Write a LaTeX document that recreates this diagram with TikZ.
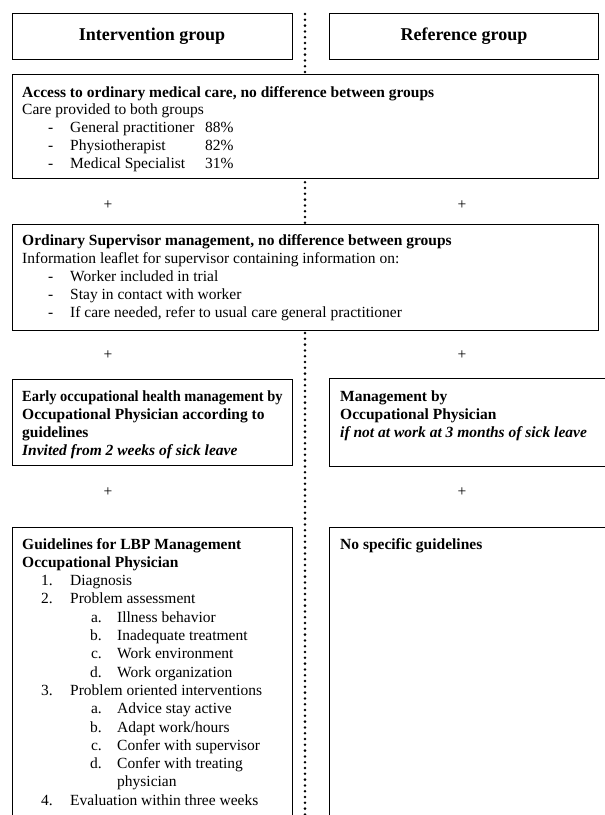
\documentclass[tikz,border=0pt]{standalone}
\usepackage{graphicx}
\usepackage{fontspec}
\setmainfont{Liberation Serif}
\begin{document}
\begin{tikzpicture}[x=1pt,y=-1pt,
  box/.style={draw=black, line width=0.7pt, fill=white, anchor=north west, inner sep=0pt},
  txt/.style={anchor=base west, inner sep=0pt, font=\fontsize{15.5}{18}\selectfont},
  num/.style={anchor=base east, inner sep=0pt, font=\fontsize{15.5}{18}\selectfont},
  head/.style={anchor=center, inner sep=0pt, font=\fontsize{18}{21}\selectfont\bfseries},
  plus/.style={anchor=center, inner sep=0pt, font=\fontsize{15.5}{18}\selectfont},
  dotline/.style={line width=2.8pt, line cap=round, dash pattern=on 0pt off 5.8pt}]
\useasboundingbox (0,0) rectangle (605,815);
% dotted divider
\coordinate (dtop) at (305,14);
\coordinate (dbot) at (305,830);
\draw[dotline] (dtop) -- (dbot);
% boxes
\node[box, minimum width=280pt, minimum height=46pt] (hi) at (12,13) {};
\node[box, minimum width=269pt, minimum height=46pt] (hr) at (329,13) {};
\node[box, minimum width=586pt, minimum height=104pt] (acc) at (12,74) {};
\node[box, minimum width=586pt, minimum height=106pt] (sup) at (12,224) {};
\node[box, minimum width=280pt, minimum height=86pt] (early) at (12,379) {};
\node[box, minimum width=280pt, minimum height=88pt] (mgmt) at (329,378) {};
\node[box, minimum width=280pt, minimum height=310pt] (guide) at (12,527) {};
\node[box, minimum width=280pt, minimum height=310pt] (nospec) at (329,527) {};
% headers
\node[head] (thi) at (152,36) {Intervention group};
\node[head] (thr) at (464,36) {Reference group};
% access box
\node[txt] (a1) at (22,97) {\textbf{Access to ordinary medical care, no difference between groups}};
\node[txt] (a2) at (22,114.5) {Care provided to both groups};
\node[txt] (a3d) at (48,132.5) {-};
\node[txt] (a3) at (70,132.5) {General practitioner};
\node[txt] (a3p) at (205,132.5) {88\%};
\node[txt] (a4d) at (48,150.5) {-};
\node[txt] (a4) at (70,150.5) {Physiotherapist};
\node[txt] (a4p) at (205,150.5) {82\%};
\node[txt] (a5d) at (48,168.5) {-};
\node[txt] (a5) at (70,168.5) {Medical Specialist};
\node[txt] (a5p) at (205,168.5) {31\%};
% plus signs
\node[plus] (p1) at (108,205) {+};
\node[plus] (p2) at (462,205) {+};
\node[plus] (p3) at (108,355) {+};
\node[plus] (p4) at (462,355) {+};
\node[plus] (p5) at (108,492) {+};
\node[plus] (p6) at (462,492) {+};
% supervisor box
\node[txt] (s1) at (22,245) {\textbf{Ordinary Supervisor management, no difference between groups}};
\node[txt] (s2) at (22,263) {Information leaflet for supervisor containing information on:};
\node[txt] (s3d) at (48,281) {-};
\node[txt] (s3) at (70,281) {Worker included in trial};
\node[txt] (s4d) at (48,299) {-};
\node[txt] (s4) at (70,299) {Stay in contact with worker};
\node[txt] (s5d) at (48,317) {-};
\node[txt] (s5) at (70,317) {If care needed, refer to usual care general practitioner};
% early box
\node[txt] (e1) at (22,401) {\scalebox{0.93}[1]{\textbf{Early occupational health management by}}};
\node[txt] (e2) at (22,419) {\textbf{Occupational Physician according to}};
\node[txt] (e3) at (22,437) {\textbf{guidelines}};
\node[txt] (e4) at (22,455) {\textbf{\itshape Invited from 2 weeks of sick leave}};
% management box
\node[txt] (m1) at (340,401) {\textbf{Management by}};
\node[txt] (m2) at (340,419) {\textbf{Occupational Physician}};
\node[txt] (m3) at (340,437) {\textbf{\itshape if not at work at 3 months of sick leave}};
% guidelines box
\node[txt] (g1) at (22,549) {\textbf{Guidelines for LBP Management}};
\node[txt] (g2) at (22,567.3) {\textbf{Occupational Physician}};
\node[num] (n1) at (53,585.6) {1.};
\node[txt] (g3) at (70,585.6) {Diagnosis};
\node[num] (n2) at (53,603.9) {2.};
\node[txt] (g4) at (70,603.9) {Problem assessment};
\node[num] (l1) at (102,622.2) {a.};
\node[txt] (g5) at (117,622.2) {Illness behavior};
\node[num] (l2) at (102,640.5) {b.};
\node[txt] (g6) at (117,640.5) {Inadequate treatment};
\node[num] (l3) at (102,658.8) {c.};
\node[txt] (g7) at (117,658.8) {Work environment};
\node[num] (l4) at (102,677.1) {d.};
\node[txt] (g8) at (117,677.1) {Work organization};
\node[num] (n3) at (53,695.4) {3.};
\node[txt] (g9) at (70,695.4) {Problem oriented interventions};
\node[num] (l5) at (102,713.7) {a.};
\node[txt] (g10) at (117,713.7) {Advice stay active};
\node[num] (l6) at (102,732) {b.};
\node[txt] (g11) at (117,732) {Adapt work/hours};
\node[num] (l7) at (102,750.3) {c.};
\node[txt] (g12) at (117,750.3) {Confer with supervisor};
\node[num] (l8) at (102,768.6) {d.};
\node[txt] (g13) at (117,768.6) {Confer with treating};
\node[txt] (g14) at (117,786.9) {physician};
\node[num] (n4) at (53,805.2) {4.};
\node[txt] (g15) at (70,805.2) {Evaluation within three weeks};
% reference side guidelines
\node[txt] (ns) at (340,549) {\textbf{No specific guidelines}};
\end{tikzpicture}
\end{document}
